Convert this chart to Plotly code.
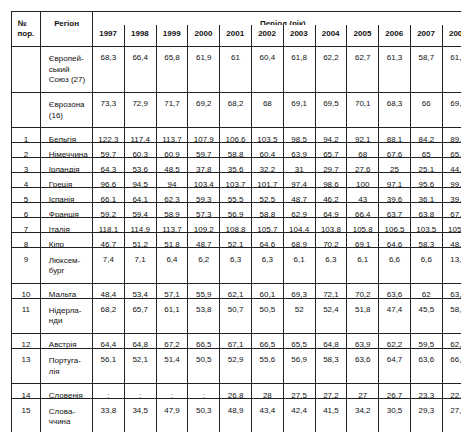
import plotly.graph_objects as go

years = [str(y) for y in range(1997, 2009)]
nums = ["", "", "1", "2", "3", "4", "5", "6", "7", "8", "9", "10", "11", "12", "13", "14", "15", "16", "17"]
regions = ["Європей-<br>ський<br>Союз (27)", "Єврозона<br>(16)", "Бельгія", "Німеччина", "Ірландія", "Греція",
           "Іспанія", "Франція", "Італія", "Кіпр", "Люксем-<br>бург", "Мальта", "Нідерла-<br>нди", "Австрія",
           "Португа-<br>лія", "Словенія", "Слова-<br>ччина", "Фінляндія", "Болгарія"]
N = None
values = [
    [68.3, 66.4, 65.8, 61.9, 61, 60.4, 61.8, 62.2, 62.7, 61.3, 58.7, 61.5],
    [73.3, 72.9, 71.7, 69.2, 68.2, 68, 69.1, 69.5, 70.1, 68.3, 66, 69.3],
    [122.3, 117.4, 113.7, 107.9, 106.6, 103.5, 98.5, 94.2, 92.1, 88.1, 84.2, 89.8],
    [59.7, 60.3, 60.9, 59.7, 58.8, 60.4, 63.9, 65.7, 68, 67.6, 65, 65.9],
    [64.3, 53.6, 48.5, 37.8, 35.6, 32.2, 31, 29.7, 27.6, 25, 25.1, 44.1],
    [96.6, 94.5, 94, 103.4, 103.7, 101.7, 97.4, 98.6, 100, 97.1, 95.6, 99.2],
    [66.1, 64.1, 62.3, 59.3, 55.5, 52.5, 48.7, 46.2, 43, 39.6, 36.1, 39.7],
    [59.2, 59.4, 58.9, 57.3, 56.9, 58.8, 62.9, 64.9, 66.4, 63.7, 63.8, 67.4],
    [118.1, 114.9, 113.7, 109.2, 108.8, 105.7, 104.4, 103.8, 105.8, 106.5, 103.5, 105.8],
    [46.7, 51.2, 51.8, 48.7, 52.1, 64.6, 68.9, 70.2, 69.1, 64.6, 58.3, 48.4],
    [7.4, 7.1, 6.4, 6.2, 6.3, 6.3, 6.1, 6.3, 6.1, 6.6, 6.6, 13.5],
    [48.4, 53.4, 57.1, 55.9, 62.1, 60.1, 69.3, 72.1, 70.2, 63.6, 62, 63.8],
    [68.2, 65.7, 61.1, 53.8, 50.7, 50.5, 52, 52.4, 51.8, 47.4, 45.5, 58.2],
    [64.4, 64.8, 67.2, 66.5, 67.1, 66.5, 65.5, 64.8, 63.9, 62.2, 59.5, 62.6],
    [56.1, 52.1, 51.4, 50.5, 52.9, 55.6, 56.9, 58.3, 63.6, 64.7, 63.6, 66.3],
    [N, N, N, N, 26.8, 28, 27.5, 27.2, 27, 26.7, 23.3, 22.5],
    [33.8, 34.5, 47.9, 50.3, 48.9, 43.4, 42.4, 41.5, 34.2, 30.5, 29.3, 27.7],
    [53.8, 48.2, 45.5, 43.8, 42.3, 41.4, 44.4, 44.4, 41.8, 39.3, 35.2, 34.1],
    [105.1, 79.6, 79.3, 74.3, 67.3, 53.6, 45.9, 37.9, 29.2, 22.7, 18.2, 14.1],
]

def fmt(v):
    if v is None:
        return ":"
    return ("%g" % v).replace(".", ",")

cols = [nums, regions] + [[fmt(r[i]) for r in values] for i in range(12)]
W = [30, 52] + [32] * 12
font = dict(family="Liberation Sans Narrow, Liberation Sans, Arial", size=8, color="#111")
hfont = dict(family="Liberation Sans Narrow, Liberation Sans, Arial", size=8, color="#111")

fig = go.Figure()
fig.add_trace(go.Table(
    columnwidth=W,
    domain=dict(x=[0, 1], y=[0, 1]),
    header=dict(values=["<b>№<br>пор.</b>", "<b>Регіон</b>"] + ["<b> <br>%s</b>" % y for y in years],
                align="center", font=hfont, height=14, line=dict(color="#222", width=1), fill_color="white"),
    cells=dict(values=cols, align=["center", "left"] + ["center"] * 12, font=font, height=15,
               line=dict(color="#222", width=1), fill_color="white"),
))
x0 = sum(W[:2]) / sum(W)
fig.add_trace(go.Table(
    domain=dict(x=[x0, 1], y=[0.965, 1]),
    header=dict(values=["<b>Період (рік)</b>"], align="center", font=hfont, height=14,
                line=dict(color="#222", width=1), fill_color="white"),
    cells=dict(values=[[]], height=1),
))
fig.update_layout(width=469, height=432, margin=dict(l=3, r=3, t=3, b=3),
                  paper_bgcolor="white")
fig.write_html("out.html")
